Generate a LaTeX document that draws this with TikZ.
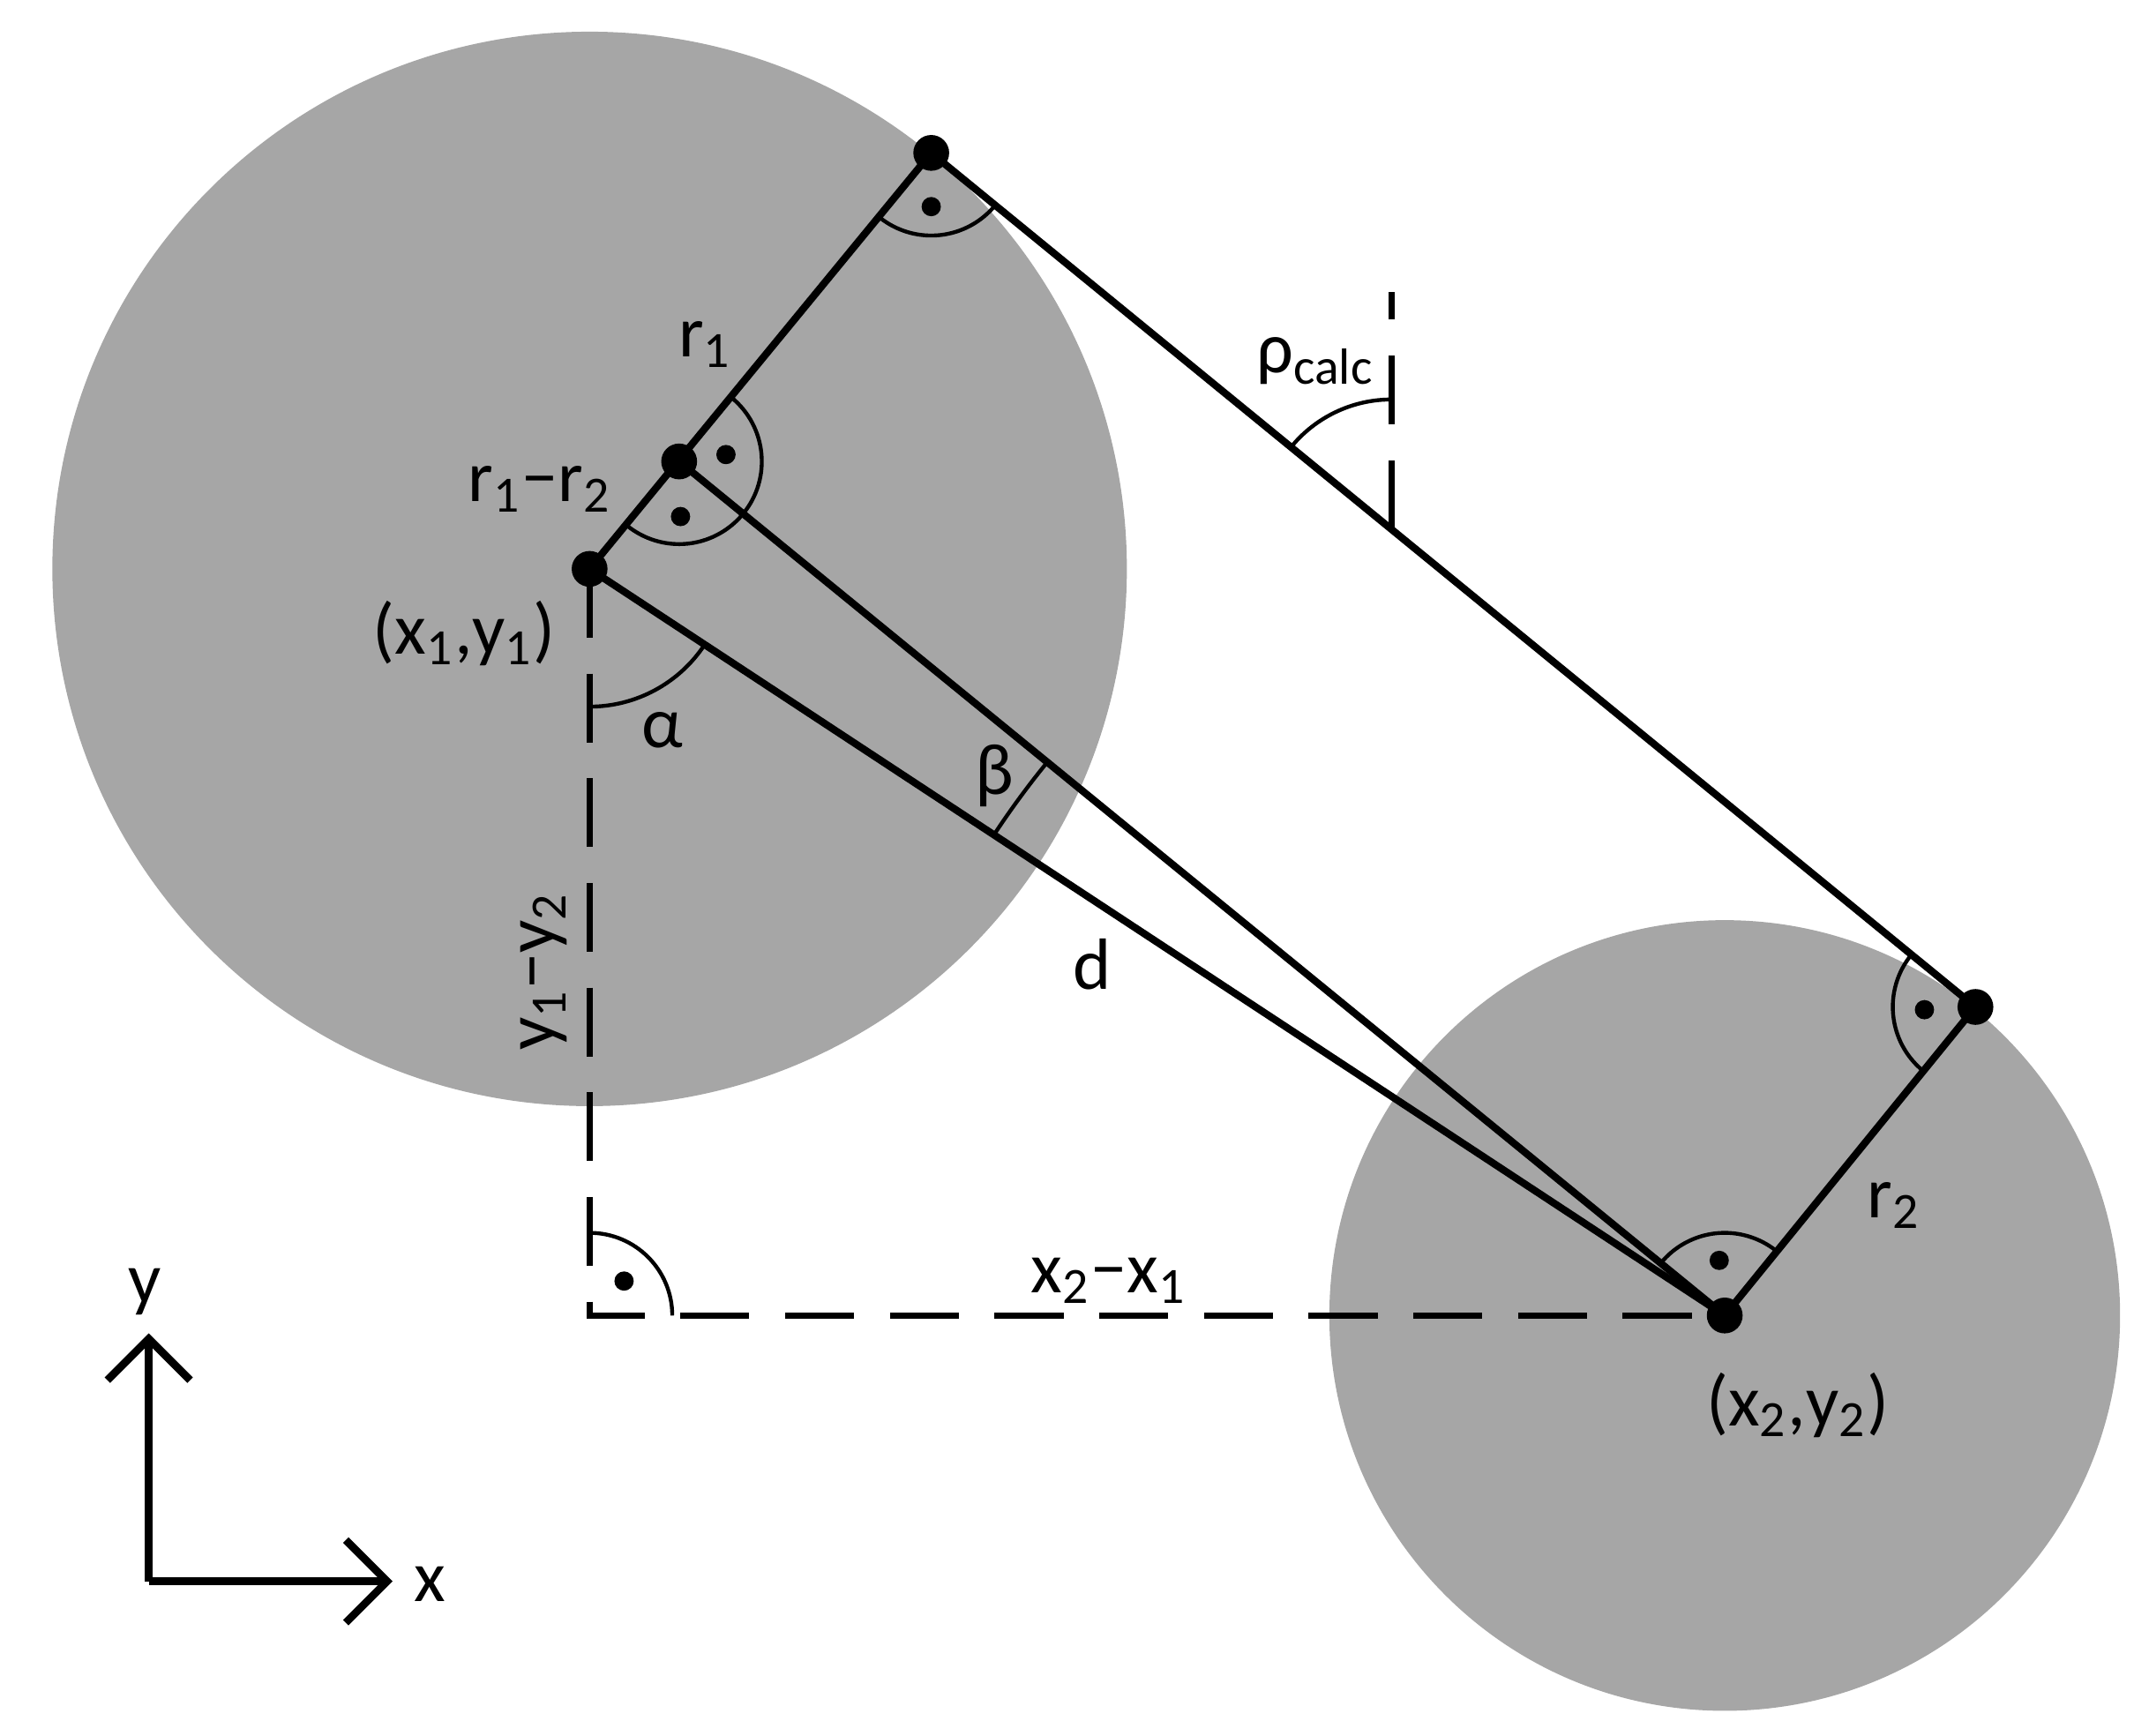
\documentclass[tikz,border=0pt]{standalone}
\usepackage{fontspec}
\setmainfont{Carlito}
\usetikzlibrary{arrows.meta,calc}
\begin{document}
\begin{tikzpicture}[x=0.1mm,y=-0.1mm,
  thickl/.style={line width=1.5pt},
  thinl/.style={line width=0.8pt},
  dashl/.style={line width=1.3pt,dash pattern=on 5mm off 2.6mm},
  lbl/.style={font=\fontsize{15}{17}\selectfont,inner sep=0pt},
  bigdot/.style={fill=black,circle,inner sep=0pt,minimum size=2.6mm},
  smalldot/.style={fill=black,circle,inner sep=0pt,minimum size=1.4mm}]
\useasboundingbox (0,0) rectangle (1560,1260);
\fill[black!35] (428,413) circle[radius=390];
\fill[black!35] (1252,955) circle[radius=287];
\coordinate (P1) at (428,413);
\coordinate (M) at (493,335);
\coordinate (T1) at (676,111);
\coordinate (T2) at (1434,731);
\coordinate (C2) at (1252,955);
\coordinate (R) at (428,955);
\coordinate (V) at (1010,384);
\coordinate (Vt) at (1010,212);
% dashed
\draw[dashl] (P1) -- (R) -- (C2);
\draw[dashl] (V) -- (Vt);
% solid
\draw[thickl] (P1) -- (T1) -- (T2) -- (C2);
\draw[thickl] (P1) -- (C2);
\draw[thickl] (M) -- (C2);
% right angle markers (angles in math sense, y flipped so negate)
\draw[thinl] ($(R)+(60,0)$) arc[start angle=0,end angle=-90,radius=60];
\node[smalldot] at (453,930) {};
\draw[thinl] ($(T1)+({60*cos(-230.6)},{60*sin(-230.6)})$) arc[start angle=-230.6,end angle=-320.7,radius=60];
\node[smalldot] at (676,150) {};
\draw[thinl] ($(M)+({60*cos(-50.6)},{60*sin(-50.6)})$) arc[start angle=-50.6,end angle=39.2,radius=60];
\node[smalldot] at (527,330) {};
\draw[thinl] ($(M)+({60*cos(39.2)},{60*sin(39.2)})$) arc[start angle=39.2,end angle=129.4,radius=60];
\node[smalldot] at (494,375) {};
\draw[thinl] ($(T2)+({60*cos(-140.7)},{60*sin(-140.7)})$) arc[start angle=-140.7,end angle=-230.6,radius=60];
\node[smalldot] at (1397,733) {};
\draw[thinl] ($(C2)+({60*cos(-50.6)},{60*sin(-50.6)})$) arc[start angle=-50.6,end angle=-140.7,radius=60];
\node[smalldot] at (1248,915) {};
% alpha, beta, rho
\draw[thinl] ($(P1)+(0,100)$) arc[start angle=90,end angle=33.3,radius=100];
\draw[thinl] ($(C2)+({635*cos(-146.7)},{635*sin(-146.7)})$) arc[start angle=-146.7,end angle=-140.8,radius=635];
\draw[thinl] ($(V)+(0,-94)$) arc[start angle=-90,end angle=-140.7,radius=94];
% big dots
\foreach \p in {P1,M,T1,T2,C2} \node[bigdot] at (\p) {};
% axes
\draw[line width=1.6pt,-{Straight Barb[length=3mm,width=6mm,line width=1.6pt]}] (108,1148) coordinate (O) -- (108,968) coordinate (Y);
\draw[line width=1.6pt,-{Straight Barb[length=3mm,width=6mm,line width=1.6pt]}] (O) -- (285,1148) coordinate (X);
\node[lbl] (ly) at (105,938) {y};
\node[lbl] (lx) at (312,1150) {x};
% labels
\node[lbl] (lr1) at (512,250) {r\textsubscript{1}};
\node[lbl] (lr12) at (392,355) {r\textsubscript{1}−r\textsubscript{2}};
\node[lbl] (lp1) at (337,460) {(x\textsubscript{1},y\textsubscript{1})};
\node[lbl] (la) at (481,530) {α};
\node[lbl] (lb) at (722,563) {β};
\node[lbl] (ld) at (793,700) {d};
\node[lbl] (lrho) at (955,262) {ρ\textsubscript{calc}};
\node[lbl,rotate=90] (ly12) at (395,705) {y\textsubscript{1}−y\textsubscript{2}};
\node[lbl] (lx21) at (805,930) {x\textsubscript{2}−x\textsubscript{1}};
\node[lbl] (lp2) at (1305,1020) {(x\textsubscript{2},y\textsubscript{2})};
\node[lbl] (lr2) at (1375,875) {r\textsubscript{2}};
\end{tikzpicture}
\end{document}
